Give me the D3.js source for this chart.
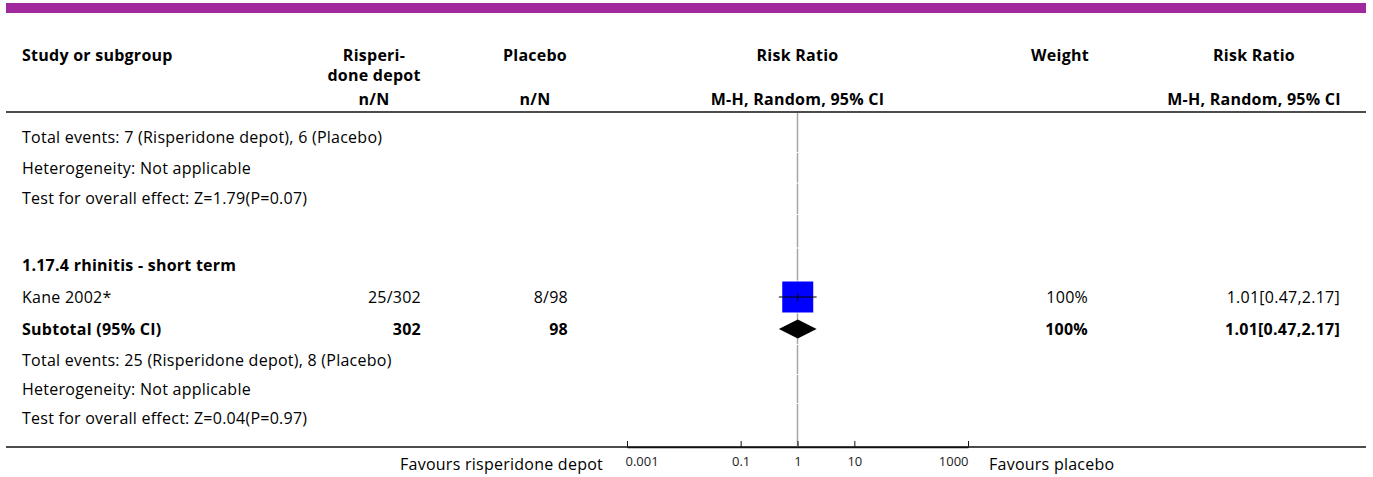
<!DOCTYPE html>
<html>
<head>
<meta charset="utf-8">
<script src="https://cdn.jsdelivr.net/npm/d3@7"></script>
<style>
  body { margin: 0; background: #fff; }
  text { font-family: "Open Sans", "Noto Sans", sans-serif; fill: #000; }
  .bold { font-weight: bold; }
  .tick text { font-family: "Open Sans", sans-serif; fill: #222; letter-spacing: 0; }
</style>
</head>
<body>
<div id="chart"></div>
<script>
// row contents, top to bottom
const rowLabels = [
  "Total events: 7 (Risperidone depot), 6 (Placebo)",
  "Heterogeneity: Not applicable",
  "Test for overall effect: Z=1.79(P=0.07)",
  "",
  "1.17.4 rhinitis - short term",
  "Kane 2002*",
  "Subtotal (95% CI)",
  "Total events: 25 (Risperidone depot), 8 (Placebo)",
  "Heterogeneity: Not applicable",
  "Test for overall effect: Z=0.04(P=0.97)"
];
const rowTypes = ["note", "note", "note", "blank", "group", "study", "subtotal", "note", "note", "note"];
const expCol = ["", "", "", "", "", "25/302", "302", "", "", ""];
const ctrlCol = ["", "", "", "", "", "8/98", "98", "", "", ""];
const weightCol = ["", "", "", "", "", "100%", "100%", "", "", ""];
const weightVal = [0, 0, 0, 0, 0, 100, 100, 0, 0, 0];
const rrCol = ["", "", "", "", "", "1.01[0.47,2.17]", "1.01[0.47,2.17]", "", "", ""];
const rrEst = [null, null, null, null, null, 1.01, 1.01, null, null, null];
const rrLow = [null, null, null, null, null, 0.47, 0.47, null, null, null];
const rrHigh = [null, null, null, null, null, 2.17, 2.17, null, null, null];
const axisTicks = [0.001, 0.1, 1, 10, 1000];

const W = 1373, H = 477;
const cols = { study: 22, exp: 421, expHead: 374, ctrl: 568, ctrlHead: 535, weight: 1088, weightHead: 1060, rr: 1340, rrHead: 1254 };
const plotL = 627, plotR = 968;
const headLineY = 112, axisY = 447;
const fs = "16px", ls = "0.25px";
// row centre positions on the page (layout only)
const rowCentres = [137, 168, 198, 231, 265, 297, 329, 360, 389, 418];

var svg = d3.select("#chart").append("svg")
  .attr("width", W)
  .attr("height", H);

// purple strip at the top
svg.append("rect")
  .attr("x", 6).attr("y", 3)
  .attr("width", 1360).attr("height", 10)
  .style("fill", "#a0299b");

// scales
x = d3.scaleLog().domain([0.001, 1000]).range([plotL, plotR]);
var idx = d3.range(rowLabels.length);
y = d3.scaleOrdinal().domain(idx).range(rowCentres);
sq = d3.scaleSqrt().domain([0, 100]).range([0, 31]);

// header
var gHead = svg.append("g").style("font-size", fs).style("letter-spacing", ls);
function head(tx, ty, t, anchor) {
  gHead.append("text").attr("class", "bold")
    .attr("x", tx).attr("y", ty)
    .style("text-anchor", anchor || "middle")
    .text(t);
}
head(cols.study, 61, "Study or subgroup", "start");
head(cols.expHead, 61, "Risperi-");
head(cols.expHead, 81, "done depot");
head(cols.ctrlHead, 61, "Placebo");
head(x(1), 61, "Risk Ratio");
head(cols.weightHead, 61, "Weight");
head(cols.rrHead, 61, "Risk Ratio");
head(cols.expHead, 105, "n/N");
head(cols.ctrlHead, 105, "n/N");
head(x(1), 105, "M-H, Random, 95% CI");
head(cols.rrHead, 105, "M-H, Random, 95% CI");

// header underline and bottom rule
[[6, plotL], [plotL, plotR], [plotR, 1366]].forEach(function (s) {
  svg.append("line")
    .attr("x1", s[0]).attr("x2", s[1])
    .attr("y1", headLineY).attr("y2", headLineY)
    .style("stroke", "#111").style("stroke-width", 1.5);
});
svg.append("line")
  .attr("x1", 6).attr("x2", 1366)
  .attr("y1", axisY).attr("y2", axisY)
  .style("stroke", "#111").style("stroke-width", 1.5);

// line of no effect, broken a little between rows
function rowTop(i) { return i == 0 ? headLineY + 1 : (y(i - 1) + y(i)) / 2 + 0.5; }
function rowBottom(i) { return i == idx.length - 1 ? axisY : (y(i) + y(i + 1)) / 2 - 0.5; }
svg.append("g").selectAll("line")
  .data(idx)
  .enter()
  .append("line")
  .attr("x1", x(1)).attr("x2", x(1))
  .attr("y1", rowTop)
  .attr("y2", rowBottom)
  .style("stroke", "#a6a6a6").style("stroke-width", 1.5);

// row texts
var gRows = svg.append("g").style("font-size", fs).style("letter-spacing", ls);
function isBold(i) { return rowTypes[i] == "group" || rowTypes[i] == "subtotal"; }
function base(i) { return y(i) + 5.5; }
function column(cls, tx, arr, anchor) {
  gRows.selectAll("text." + cls).data(idx).enter().append("text")
    .attr("class", (i) => cls + (isBold(i) ? " bold" : ""))
    .attr("x", tx).attr("y", base)
    .style("text-anchor", anchor)
    .text((i) => arr[i]);
}
column("lab", cols.study, rowLabels, "start");
column("exp", cols.exp, expCol, "end");
column("ctrl", cols.ctrl, ctrlCol, "end");
column("wt", cols.weight, weightCol, "end");
column("rr", cols.rr, rrCol, "end");

// study squares with CI
var gMarks = svg.append("g");
idx.filter((i) => rowTypes[i] == "study").forEach(function (i) {
  var cy = y(i);
  var s = sq(weightVal[i]);
  gMarks.append("rect")
    .attr("x", x(rrEst[i]) - s / 2).attr("y", cy - s / 2)
    .attr("width", s).attr("height", s)
    .style("fill", "#0000ff");
  gMarks.append("line")
    .attr("x1", x(rrLow[i])).attr("x2", x(rrHigh[i]))
    .attr("y1", cy).attr("y2", cy)
    .style("stroke", "#000").style("stroke-width", 1);
  gMarks.append("line")
    .attr("x1", x(rrEst[i])).attr("x2", x(rrEst[i]))
    .attr("y1", cy - 4).attr("y2", cy + 4)
    .style("stroke", "#000").style("stroke-width", 1);
});

// subtotal diamonds
idx.filter((i) => rowTypes[i] == "subtotal").forEach(function (i) {
  var cy = y(i);
  gMarks.append("path")
    .attr("d", "M" + x(rrLow[i]) + "," + cy +
      "L" + x(rrEst[i]) + "," + (cy - 9.5) +
      "L" + x(rrHigh[i]) + "," + cy +
      "L" + x(rrEst[i]) + "," + (cy + 9.5) + "Z")
    .style("fill", "#000");
});

// axis
var gAxis = svg.append("g")
  .attr("transform", "translate(0," + axisY + ")")
  .call(d3.axisBottom(x).tickValues(axisTicks).tickFormat(d3.format("~g"))
    .tickSizeInner(-6).tickSizeOuter(0).tickPadding(10));
gAxis.select(".domain").style("stroke", "#111").style("stroke-width", 1.5);
gAxis.selectAll(".tick line").style("stroke", "#111");
gAxis.selectAll(".tick text")
  .style("font-size", "13px")
  .attr("text-anchor", (d, i) => (i == 0 ? "start" : i == axisTicks.length - 1 ? "end" : "middle"))
  .attr("dx", (d, i) => (i == 0 ? -2 : 0));

svg.append("text")
  .attr("x", 603).attr("y", 470)
  .style("font-size", fs).style("letter-spacing", ls).style("text-anchor", "end")
  .text("Favours risperidone depot");
svg.append("text")
  .attr("x", 989).attr("y", 470)
  .style("font-size", fs).style("letter-spacing", ls)
  .text("Favours placebo");
</script>
</body>
</html>
